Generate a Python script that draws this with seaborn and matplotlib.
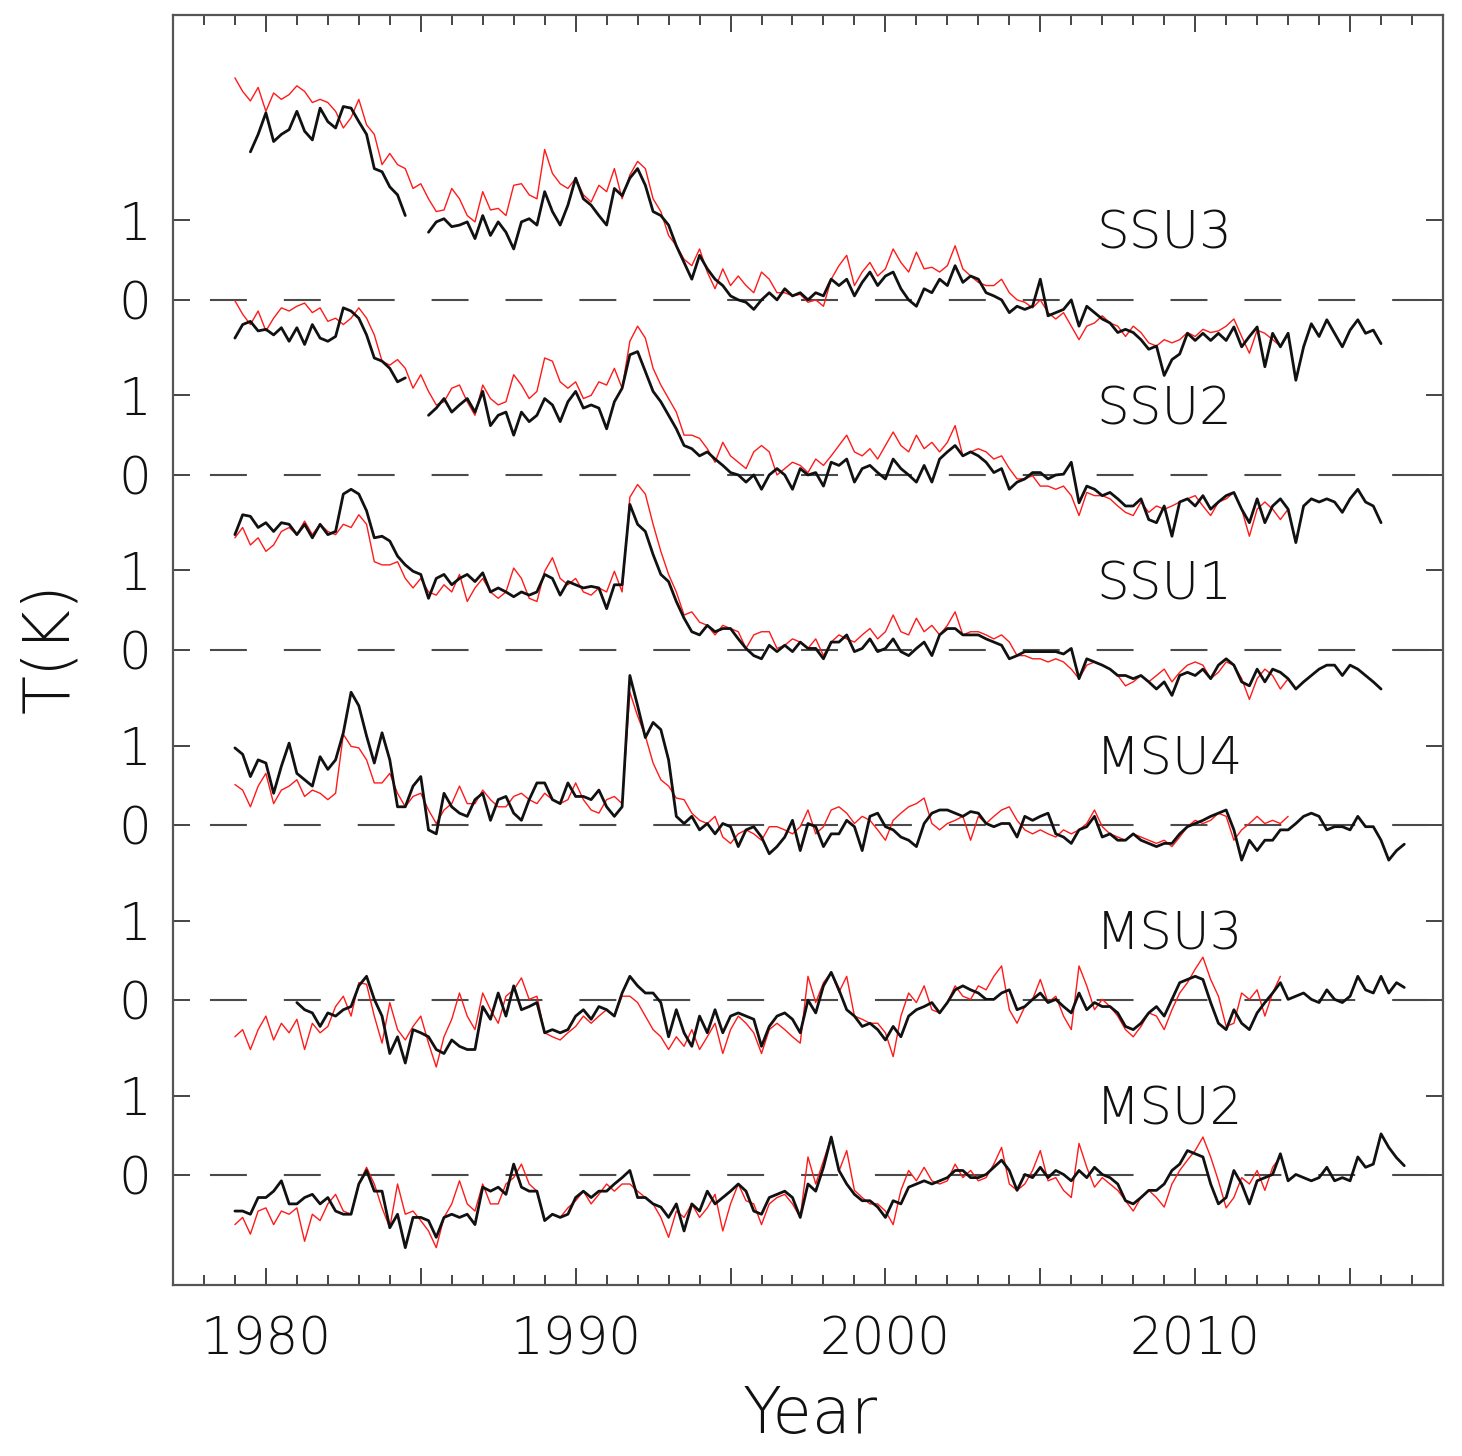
import numpy as np
import pandas as pd
import matplotlib
matplotlib.use("Agg")
import matplotlib.pyplot as plt
import seaborn as sns
from matplotlib.ticker import MultipleLocator, FuncFormatter

nan = np.nan

# Channels from bottom to top, and the vertical offset (K) each one is stacked at
channels = ["MSU2", "MSU3", "MSU4", "SSU1", "SSU2", "SSU3"]
channel_offset = [0.0, 2.2, 4.4, 6.6, 8.8, 11.0]

# All series are quarterly anomalies (K) starting at 1979.0
start_year = 1979.0
step = 0.25

ssu3_a = [
    2.79, 2.62, 2.50, 2.67, 2.37, 2.60, 2.52, 2.58,
    2.69, 2.62, 2.48, 2.52, 2.48, 2.37, 2.16, 2.29,
    2.52, 2.20, 2.08, 1.70, 1.84, 1.70, 1.65, 1.40,
    1.46, 1.27, 1.11, 1.13, 1.40, 1.27, 1.06, 0.98,
    1.36, 1.13, 1.15, 1.06, 1.44, 1.46, 1.32, 1.27,
    1.89, 1.59, 1.46, 1.40, 1.53, 1.32, 1.23, 1.44,
    1.36, 1.65, 1.27, 1.57, 1.74, 1.65, 1.27, 1.11,
    0.81, 0.68, 0.51, 0.43, 0.64, 0.35, 0.14, 0.39,
    0.18, 0.30, 0.18, 0.09, 0.35, 0.26, 0.09, 0.09,
    0.05, 0.07, -0.03, 0.00, -0.08, 0.26, 0.43, 0.56,
    0.18, 0.35, 0.47, 0.30, 0.39, 0.64, 0.47, 0.35,
    0.60, 0.39, 0.41, 0.35, 0.43, 0.68, 0.39, 0.30,
    0.22, 0.18, 0.18, 0.26, 0.09, 0.00, -0.03, -0.10,
    0.00, -0.16, -0.24, -0.16, -0.33, -0.50, -0.33, -0.29,
    -0.20, -0.29, -0.33, -0.46, -0.33, -0.41, -0.54, -0.58,
    -0.50, -0.54, -0.50, -0.41, -0.46, -0.37, -0.41, -0.39,
    -0.33, -0.24, -0.46, -0.67, -0.38, -0.42, -0.50, -0.58,
    -0.41]
ssu3_b = [
    nan, nan, 1.86, 2.08, 2.35, 1.99, 2.08, 2.14,
    2.37, 2.12, 2.01, 2.41, 2.24, 2.16, 2.43, 2.41,
    2.24, 2.08, 1.65, 1.61, 1.42, 1.32, 1.06, nan,
    nan, 0.85, 0.98, 1.02, 0.92, 0.94, 0.98, 0.77,
    1.06, 0.81, 0.98, 0.85, 0.64, 0.98, 1.02, 0.94,
    1.36, 1.11, 0.94, 1.19, 1.53, 1.27, 1.19, 1.06,
    0.94, 1.40, 1.31, 1.53, 1.65, 1.44, 1.11, 1.06,
    0.94, 0.68, 0.47, 0.26, 0.56, 0.39, 0.26, 0.18,
    0.05, 0.00, -0.03, -0.12, 0.00, 0.09, 0.00, 0.14,
    0.05, 0.09, 0.00, 0.09, 0.05, 0.26, 0.18, 0.26,
    0.05, 0.22, 0.35, 0.18, 0.30, 0.35, 0.14, 0.00,
    -0.08, 0.14, 0.09, 0.26, 0.18, 0.43, 0.22, 0.30,
    0.26, 0.09, 0.05, 0.00, -0.16, -0.08, -0.12, -0.08,
    0.26, -0.20, -0.16, -0.12, 0.00, -0.33, -0.08, -0.16,
    -0.24, -0.29, -0.41, -0.37, -0.41, -0.50, -0.62, -0.58,
    -0.95, -0.75, -0.68, -0.42, -0.51, -0.42, -0.51, -0.42,
    -0.51, -0.34, -0.59, -0.46, -0.34, -0.84, -0.42, -0.59,
    -0.42, -1.01, -0.59, -0.30, -0.46, -0.25, -0.42, -0.59,
    -0.38, -0.25, -0.42, -0.38, -0.55]

ssu2_a = [
    2.19, 2.02, 1.89, 2.06, 1.81, 1.97, 2.10, 2.06,
    2.12, 2.16, 2.04, 2.10, 1.93, 1.97, 1.89, 1.97,
    2.10, 1.97, 1.76, 1.43, 1.38, 1.45, 1.34, 1.09,
    1.26, 1.05, 0.88, 0.92, 1.09, 1.13, 0.92, 0.75,
    1.13, 0.96, 0.88, 0.92, 1.26, 1.13, 0.96, 1.05,
    1.47, 1.43, 1.17, 1.09, 1.17, 0.96, 1.00, 1.17,
    1.13, 1.34, 1.09, 1.68, 1.87, 1.72, 1.34, 1.13,
    0.96, 0.79, 0.50, 0.50, 0.46, 0.33, 0.16, 0.41,
    0.24, 0.16, 0.08, 0.29, 0.37, 0.29, 0.00, 0.08,
    0.16, 0.12, 0.03, 0.20, 0.12, 0.24, 0.37, 0.50,
    0.29, 0.24, 0.33, 0.20, 0.37, 0.54, 0.37, 0.29,
    0.50, 0.33, 0.41, 0.29, 0.41, 0.62, 0.24, 0.29,
    0.33, 0.29, 0.20, 0.24, 0.08, -0.05, -0.05, -0.01,
    -0.14, -0.14, -0.18, -0.14, -0.26, -0.51, -0.22, -0.26,
    -0.26, -0.30, -0.39, -0.47, -0.51, -0.34, -0.47, -0.39,
    -0.43, -0.39, -0.34, -0.30, -0.26, -0.39, -0.51, -0.34,
    -0.30, -0.22, -0.43, -0.77, -0.43, -0.34, -0.43, -0.56,
    -0.43]
ssu2_b = [
    1.72, 1.89, 1.93, 1.81, 1.83, 1.76, 1.85, 1.68,
    1.85, 1.64, 1.89, 1.72, 1.68, 1.74, 2.10, 2.06,
    1.97, 1.76, 1.47, 1.43, 1.34, 1.17, 1.22, nan,
    nan, 0.75, 0.84, 0.96, 0.79, 0.88, 0.96, 0.79,
    1.05, 0.62, 0.75, 0.79, 0.50, 0.79, 0.67, 0.75,
    0.96, 0.88, 0.67, 0.92, 1.05, 0.84, 0.88, 0.84,
    0.58, 0.92, 1.09, 1.51, 1.55, 1.30, 1.05, 0.92,
    0.75, 0.58, 0.37, 0.33, 0.24, 0.29, 0.20, 0.12,
    0.03, 0.00, -0.09, 0.00, -0.18, 0.00, 0.08, 0.00,
    -0.18, 0.08, 0.00, 0.03, -0.14, 0.16, 0.12, 0.20,
    -0.09, 0.08, 0.12, 0.03, -0.05, 0.20, 0.08, 0.00,
    -0.09, 0.12, -0.09, 0.20, 0.29, 0.37, 0.24, 0.29,
    0.24, 0.16, 0.03, 0.08, -0.18, -0.09, -0.05, 0.03,
    0.03, -0.05, 0.00, 0.01, 0.16, -0.35, -0.14, -0.18,
    -0.26, -0.22, -0.30, -0.39, -0.39, -0.30, -0.56, -0.60,
    -0.39, -0.77, -0.34, -0.30, -0.39, -0.26, -0.43, -0.34,
    -0.26, -0.22, -0.43, -0.60, -0.30, -0.60, -0.39, -0.30,
    -0.43, -0.85, -0.39, -0.30, -0.34, -0.30, -0.34, -0.47,
    -0.30, -0.18, -0.34, -0.39, -0.60]

ssu1_a = [
    1.41, 1.54, 1.32, 1.41, 1.24, 1.32, 1.49, 1.54,
    1.45, 1.62, 1.45, 1.58, 1.49, 1.45, 1.58, 1.54,
    1.70, 1.58, 1.11, 1.07, 1.07, 1.11, 0.90, 0.78,
    0.90, 0.73, 0.69, 0.82, 0.73, 0.95, 0.61, 0.78,
    0.90, 0.73, 0.65, 0.73, 1.03, 0.90, 0.65, 0.61,
    0.99, 1.16, 0.90, 0.82, 0.90, 0.73, 0.69, 0.78,
    0.73, 0.99, 0.73, 1.92, 2.08, 1.96, 1.58, 1.24,
    0.95, 0.73, 0.44, 0.48, 0.35, 0.31, 0.19, 0.31,
    0.27, 0.23, 0.02, 0.19, 0.23, 0.23, 0.02, 0.06,
    0.14, 0.10, 0.02, 0.14, -0.07, 0.10, 0.19, 0.14,
    0.10, 0.19, 0.27, 0.14, 0.23, 0.44, 0.23, 0.19,
    0.40, 0.23, 0.31, 0.19, 0.31, 0.48, 0.19, 0.23,
    0.23, 0.19, 0.14, 0.19, 0.10, -0.07, -0.07, -0.11,
    -0.11, -0.15, -0.11, -0.15, -0.24, -0.36, -0.19, -0.15,
    -0.19, -0.24, -0.32, -0.45, -0.40, -0.32, -0.40, -0.32,
    -0.24, -0.40, -0.28, -0.19, -0.15, -0.19, -0.36, -0.28,
    -0.15, -0.19, -0.36, -0.62, -0.36, -0.24, -0.32, -0.49,
    -0.36]
ssu1_b = [
    1.45, 1.70, 1.68, 1.54, 1.60, 1.49, 1.60, 1.58,
    1.45, 1.58, 1.41, 1.58, 1.45, 1.49, 1.96, 2.02,
    1.96, 1.75, 1.41, 1.43, 1.37, 1.18, 1.07, 0.99,
    0.95, 0.65, 0.90, 0.95, 0.82, 0.90, 0.95, 0.86,
    0.97, 0.73, 0.78, 0.73, 0.67, 0.73, 0.69, 0.73,
    0.95, 0.90, 0.69, 0.86, 0.82, 0.78, 0.80, 0.78,
    0.52, 0.82, 0.82, 1.83, 1.58, 1.49, 1.20, 0.95,
    0.86, 0.61, 0.40, 0.23, 0.19, 0.31, 0.23, 0.27,
    0.27, 0.14, 0.02, -0.07, -0.11, 0.06, -0.02, 0.06,
    -0.02, 0.10, 0.02, 0.02, -0.11, 0.10, 0.10, 0.19,
    -0.02, 0.02, 0.14, -0.02, 0.02, 0.14, -0.02, -0.07,
    0.02, 0.10, -0.07, 0.19, 0.27, 0.27, 0.19, 0.19,
    0.19, 0.14, 0.10, 0.06, -0.11, -0.07, -0.02, -0.02,
    -0.02, -0.02, -0.02, -0.05, 0.02, -0.36, -0.11, -0.15,
    -0.19, -0.24, -0.32, -0.32, -0.36, -0.32, -0.40, -0.49,
    -0.40, -0.57, -0.32, -0.28, -0.32, -0.24, -0.36, -0.19,
    -0.11, -0.19, -0.40, -0.45, -0.24, -0.40, -0.24, -0.28,
    -0.36, -0.49, -0.40, -0.32, -0.24, -0.19, -0.19, -0.32,
    -0.19, -0.24, -0.32, -0.40, -0.49]

msu4_a = [
    0.51, 0.44, 0.23, 0.49, 0.65, 0.27, 0.44, 0.49,
    0.57, 0.36, 0.44, 0.40, 0.32, 0.40, 1.14, 0.99,
    0.97, 0.82, 0.53, 0.53, 0.65, 0.40, 0.23, 0.36,
    0.40, 0.19, 0.02, 0.19, 0.27, 0.49, 0.27, 0.27,
    0.44, 0.32, 0.23, 0.23, 0.36, 0.40, 0.32, 0.27,
    0.40, 0.32, 0.27, 0.32, 0.53, 0.32, 0.19, 0.15,
    0.32, 0.36, 0.27, 1.67, 1.37, 1.12, 0.78, 0.57,
    0.49, 0.34, 0.32, 0.15, 0.06, 0.02, 0.11, -0.15,
    -0.23, -0.11, -0.06, -0.11, -0.19, -0.02, -0.02, -0.06,
    -0.11, -0.02, 0.19, -0.11, -0.02, 0.19, 0.23, 0.15,
    0.02, 0.11, 0.06, -0.06, -0.19, 0.06, 0.15, 0.23,
    0.27, 0.34, 0.02, -0.06, 0.02, 0.06, 0.11, -0.19,
    0.11, 0.02, 0.11, 0.19, 0.23, 0.06, -0.06, -0.11,
    -0.06, -0.11, -0.15, -0.06, -0.11, -0.06, 0.02, 0.19,
    -0.02, -0.11, -0.15, -0.19, -0.11, -0.15, -0.19, -0.23,
    -0.19, -0.27, -0.15, -0.02, 0.06, 0.02, 0.06, 0.15,
    0.11, -0.19, -0.06, 0.02, 0.11, 0.02, 0.06, 0.02,
    0.11]
msu4_b = [
    0.97, 0.89, 0.61, 0.82, 0.78, 0.40, 0.74, 1.03,
    0.65, 0.57, 0.49, 0.86, 0.70, 0.82, 1.16, 1.67,
    1.50, 1.12, 0.78, 1.16, 0.82, 0.23, 0.23, 0.49,
    0.61, -0.06, -0.11, 0.40, 0.23, 0.15, 0.11, 0.32,
    0.40, 0.06, 0.32, 0.36, 0.15, 0.06, 0.32, 0.53,
    0.53, 0.32, 0.27, 0.53, 0.36, 0.36, 0.32, 0.44,
    0.23, 0.11, 0.23, 1.88, 1.50, 1.10, 1.29, 1.20,
    0.82, 0.11, 0.02, 0.11, -0.06, 0.02, -0.11, 0.02,
    -0.02, -0.27, -0.06, -0.02, -0.15, -0.36, -0.27, -0.15,
    0.06, -0.32, 0.02, -0.02, -0.27, -0.11, -0.11, 0.06,
    -0.02, -0.32, 0.11, 0.15, -0.02, -0.06, -0.15, -0.19,
    -0.27, 0.02, 0.15, 0.19, 0.19, 0.15, 0.11, 0.17,
    0.15, 0.02, -0.02, 0.02, 0.02, -0.15, 0.11, 0.06,
    0.11, 0.15, -0.11, -0.15, -0.23, -0.06, -0.02, 0.11,
    -0.15, -0.11, -0.19, -0.19, -0.11, -0.19, -0.23, -0.27,
    -0.23, -0.23, -0.11, -0.02, 0.02, 0.06, 0.11, 0.15,
    0.19, -0.06, -0.44, -0.19, -0.32, -0.19, -0.19, -0.06,
    -0.06, 0.02, 0.11, 0.15, 0.11, -0.06, -0.02, -0.02,
    -0.06, 0.11, -0.02, -0.02, -0.19, -0.44, -0.32, -0.24]

msu3_a = [
    -0.46, -0.37, -0.62, -0.37, -0.20, -0.50, -0.29, -0.41,
    -0.24, -0.62, -0.29, -0.41, -0.33, -0.08, 0.05, -0.20,
    0.22, 0.20, -0.20, -0.54, -0.03, -0.37, -0.50, -0.33,
    -0.20, -0.54, -0.84, -0.46, -0.24, 0.09, -0.20, -0.37,
    0.09, -0.12, -0.29, 0.05, 0.13, 0.28, 0.01, 0.05,
    -0.41, -0.46, -0.50, -0.41, -0.33, -0.20, -0.29, -0.20,
    -0.12, -0.20, 0.05, 0.05, -0.03, -0.20, -0.37, -0.46,
    -0.62, -0.46, -0.58, -0.37, -0.62, -0.46, -0.29, -0.67,
    -0.37, -0.20, -0.29, -0.41, -0.67, -0.37, -0.29, -0.37,
    -0.46, -0.54, 0.30, -0.03, 0.22, 0.35, 0.10, 0.30,
    -0.20, -0.24, -0.29, -0.29, -0.41, -0.71, -0.20, 0.09,
    -0.03, 0.18, -0.12, -0.16, -0.03, 0.18, 0.05, 0.01,
    0.18, 0.13, 0.30, 0.43, -0.12, -0.29, -0.08, 0.01,
    0.26, -0.03, 0.05, -0.20, -0.37, 0.43, 0.18, -0.12,
    0.01, -0.08, -0.20, -0.37, -0.46, -0.33, -0.16, -0.20,
    -0.37, -0.12, 0.09, 0.22, 0.39, 0.54, 0.26, 0.05,
    -0.33, -0.29, 0.09, 0.01, 0.13, -0.20, 0.09, 0.30]
msu3_b = [
    nan, nan, nan, nan, nan, nan, nan, nan,
    -0.03, -0.12, -0.16, -0.33, -0.16, -0.20, -0.12, -0.08,
    0.18, 0.30, 0.01, -0.20, -0.67, -0.46, -0.79, -0.37,
    -0.41, -0.46, -0.62, -0.67, -0.50, -0.58, -0.62, -0.62,
    -0.08, -0.24, 0.09, -0.20, 0.18, -0.12, -0.08, -0.03,
    -0.41, -0.37, -0.41, -0.37, -0.20, -0.12, -0.24, -0.08,
    -0.12, -0.20, 0.09, 0.30, 0.18, 0.09, 0.09, -0.03,
    -0.46, -0.12, -0.41, -0.58, -0.20, -0.41, -0.12, -0.41,
    -0.20, -0.16, -0.20, -0.24, -0.58, -0.33, -0.20, -0.16,
    -0.24, -0.41, 0.00, -0.16, 0.18, 0.35, 0.13, -0.12,
    -0.20, -0.33, -0.29, -0.37, -0.50, -0.33, -0.46, -0.20,
    -0.12, -0.08, -0.03, -0.16, -0.03, 0.13, 0.18, 0.13,
    0.09, 0.01, 0.01, 0.09, 0.13, -0.12, -0.08, 0.01,
    0.09, -0.03, 0.01, -0.08, -0.16, 0.09, -0.12, -0.03,
    -0.08, -0.08, -0.16, -0.33, -0.37, -0.29, -0.16, -0.08,
    -0.20, 0.01, 0.22, 0.26, 0.30, 0.26, -0.03, -0.29,
    -0.37, -0.12, -0.29, -0.37, -0.16, -0.03, 0.09, 0.22,
    0.01, 0.05, 0.09, 0.01, -0.03, 0.13, 0.01, -0.03,
    0.05, 0.30, 0.13, 0.09, 0.30, 0.09, 0.22, 0.16]

msu2_a = [
    -0.62, -0.53, -0.74, -0.45, -0.41, -0.62, -0.45, -0.49,
    -0.41, -0.83, -0.49, -0.57, -0.36, -0.24, -0.45, -0.49,
    -0.11, 0.10, -0.11, -0.41, -0.66, -0.11, -0.49, -0.45,
    -0.57, -0.70, -0.91, -0.53, -0.36, -0.07, -0.36, -0.45,
    -0.11, -0.36, -0.36, -0.11, -0.03, 0.14, -0.11, -0.20,
    -0.57, -0.49, -0.53, -0.41, -0.32, -0.20, -0.36, -0.24,
    -0.11, -0.20, -0.11, -0.11, -0.20, -0.28, -0.36, -0.53,
    -0.78, -0.45, -0.53, -0.36, -0.53, -0.41, -0.24, -0.70,
    -0.36, -0.11, -0.32, -0.36, -0.62, -0.36, -0.28, -0.24,
    -0.36, -0.53, 0.23, -0.11, 0.18, 0.48, 0.05, 0.31,
    -0.19, -0.28, -0.36, -0.36, -0.45, -0.62, -0.19, 0.06,
    -0.07, 0.10, -0.07, -0.11, -0.07, 0.14, -0.03, 0.06,
    -0.07, -0.03, 0.14, 0.35, -0.11, -0.19, -0.11, 0.06,
    0.31, -0.07, -0.03, -0.19, -0.28, 0.40, 0.10, -0.15,
    -0.03, -0.11, -0.19, -0.32, -0.45, -0.28, -0.19, -0.28,
    -0.40, -0.11, 0.06, 0.19, 0.31, 0.48, 0.23, -0.07,
    -0.41, -0.28, -0.03, -0.11, 0.06, -0.19, 0.10, 0.23]
msu2_b = [
    -0.45, -0.45, -0.49, -0.28, -0.28, -0.20, -0.07, -0.36,
    -0.36, -0.28, -0.24, -0.36, -0.28, -0.45, -0.49, -0.49,
    -0.11, 0.06, -0.20, -0.20, -0.66, -0.49, -0.91, -0.53,
    -0.53, -0.57, -0.78, -0.53, -0.49, -0.53, -0.49, -0.62,
    -0.15, -0.20, -0.15, -0.24, 0.14, -0.15, -0.20, -0.20,
    -0.57, -0.49, -0.53, -0.49, -0.28, -0.20, -0.28, -0.20,
    -0.20, -0.11, -0.03, 0.06, -0.28, -0.28, -0.36, -0.40,
    -0.53, -0.36, -0.70, -0.36, -0.45, -0.20, -0.36, -0.28,
    -0.20, -0.11, -0.20, -0.45, -0.49, -0.28, -0.24, -0.20,
    -0.28, -0.53, -0.11, -0.20, 0.10, 0.48, 0.06, -0.11,
    -0.24, -0.32, -0.32, -0.40, -0.53, -0.32, -0.36, -0.15,
    -0.11, -0.07, -0.11, -0.07, -0.03, 0.06, 0.06, -0.03,
    -0.03, 0.01, 0.10, 0.19, 0.06, -0.19, 0.01, -0.03,
    0.10, -0.03, 0.06, 0.01, -0.07, 0.06, -0.03, 0.10,
    0.01, -0.03, -0.11, -0.32, -0.36, -0.28, -0.19, -0.19,
    -0.11, 0.06, 0.14, 0.31, 0.27, 0.23, -0.11, -0.36,
    -0.28, 0.06, -0.11, -0.36, -0.07, -0.03, 0.01, 0.27,
    -0.07, 0.01, -0.03, -0.07, -0.03, 0.10, -0.07, -0.03,
    -0.07, 0.23, 0.10, 0.14, 0.52, 0.35, 0.22, 0.12]

series_a = [msu2_a, msu3_a, msu4_a, ssu1_a, ssu2_a, ssu3_a]
series_b = [msu2_b, msu3_b, msu4_b, ssu1_b, ssu2_b, ssu3_b]

x_label_years = [1980, 1990, 2000, 2010]


def stack_frame(values, offset, name):
    """Quarterly series -> long frame, shifted by the channel offset.
    Missing quarters split the line into separate segments."""
    v = np.asarray(values, dtype=float)
    t = start_year + step * np.arange(len(v))
    valid = ~np.isnan(v)
    seg = np.cumsum(~valid)
    df = pd.DataFrame({"year": t, "T": v + offset,
                       "seg": [f"{name}-{s}" for s in seg]})
    return df[valid]


frame_a = pd.concat([stack_frame(s, o, c) for s, o, c in
                     zip(series_a, channel_offset, channels)], ignore_index=True)
frame_b = pd.concat([stack_frame(s, o, c) for s, o, c in
                     zip(series_b, channel_offset, channels)], ignore_index=True)

sns.set_theme(style="white")
plt.rcParams["font.family"] = ["DejaVu Sans"]
plt.rcParams["font.weight"] = "light"
plt.rcParams["lines.scale_dashes"] = False
text_color = "#111111"
axis_color = "#555555"

fig = plt.figure(figsize=(14.62, 14.56), dpi=100)
ax = fig.add_axes([0.1183, 0.1174, 0.8687, 0.8723])

# dashed zero line for every channel
for off in channel_offset:
    ax.axhline(off, color="#4a4a4a", lw=1.5, ls=(26.6, (26.6, 26.6)), zorder=1)

sns.lineplot(data=frame_a, x="year", y="T", units="seg", estimator=None,
             color="#ff1a1a", linewidth=1.0, ax=ax, legend=False, zorder=2)
sns.lineplot(data=frame_b, x="year", y="T", units="seg", estimator=None,
             color="#111111", linewidth=2.0, ax=ax, legend=False, zorder=3)

ax.set_xlim(1977, 2018)
ax.set_ylim(-1.38, 14.58)

# x ticks: long every 5 years, short every year, labels each decade
ax.xaxis.set_major_locator(MultipleLocator(5))
ax.xaxis.set_minor_locator(MultipleLocator(1))
ax.xaxis.set_major_formatter(FuncFormatter(
    lambda x, p: f"{int(round(x))}" if int(round(x)) in x_label_years else ""))

# y ticks: 0 and 1 K for every channel
yt = []
yl = []
for off in channel_offset:
    yt += [off, off + 1.0]
    yl += ["0", "1"]
ax.set_yticks(yt)
ax.set_yticklabels(yl)

ax.tick_params(which="both", direction="in", top=True, right=True,
               bottom=True, left=True,
               color="#444444", width=1.4, labelcolor=text_color)
ax.tick_params(which="major", length=12)
ax.tick_params(which="minor", length=7)
ax.tick_params(axis="x", which="major", labelsize=37, pad=22)
ax.tick_params(axis="y", which="major", labelsize=37, pad=16)

for sp in ax.spines.values():
    sp.set_visible(True)
    sp.set_color(axis_color)
    sp.set_linewidth(1.6)

ax.set_xlabel("")
ax.set_ylabel("")

# channel names
for name, off in zip(channels, channel_offset):
    ax.text(2006.8, off + 0.64, name, fontsize=37, color=text_color,
            ha="left", va="baseline", zorder=4)

fig.text(810 / 1462, 1 - 1415 / 1456, "Year", fontsize=46, color=text_color,
         ha="center", va="center")
fig.text(50 / 1462, 1 - 648 / 1456, "T(K)", fontsize=46, color=text_color,
         ha="center", va="center", rotation=90)

fig.savefig("out.png", dpi=100, facecolor="white")
